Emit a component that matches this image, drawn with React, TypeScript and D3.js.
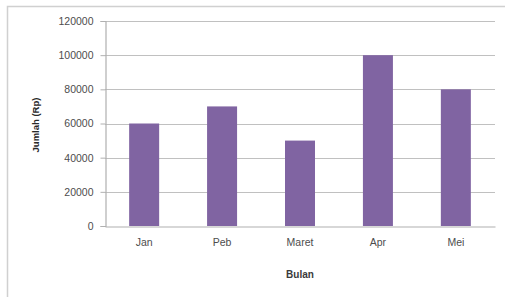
import React, { useEffect, useRef } from "react";
import * as d3 from "d3";

const months = ["Jan", "Peb", "Maret", "Apr", "Mei"];
const values = [60000, 70000, 50000, 100000, 80000];
const yTicks = [0, 20000, 40000, 60000, 80000, 100000, 120000];

const W = 505;
const H = 297;
const m = { left: 105, right: 10, top: 21, bottom: 71 };

const App = () => {
  const svgRef = useRef<SVGSVGElement>(null);

  useEffect(() => {
    const svg = d3.select(svgRef.current);
    svg.selectAll("*").remove();

    const x = d3
      .scaleBand()
      .domain(months)
      .range([m.left, W - m.right])
      .paddingInner(0.615)
      .paddingOuter(0.31);
    const y = d3.scaleLinear().domain([0, 120000]).range([H - m.bottom, m.top]);

    // outer frame (left + top only visible)
    svg
      .append("path")
      .attr("d", `M7.5,${H} L7.5,6.5 L${W},6.5`)
      .attr("fill", "none")
      .attr("stroke", "#d0d0d0")
      .attr("stroke-width", 1.5);

    // gridlines
    svg
      .append("g")
      .selectAll("line")
      .data(yTicks.filter((t) => t > 0))
      .join("line")
      .attr("x1", m.left)
      .attr("x2", W - m.right)
      .attr("y1", (d) => Math.round(y(d)) + 0.5)
      .attr("y2", (d) => Math.round(y(d)) + 0.5)
      .attr("stroke", "#c0c0c0")
      .attr("stroke-width", 1.2);

    // bars
    svg
      .append("g")
      .selectAll("rect")
      .data(values)
      .join("rect")
      .attr("x", (d, i) => x(months[i])!)
      .attr("width", x.bandwidth())
      .attr("y", (d) => y(d))
      .attr("height", (d) => y(0) - y(d))
      .attr("fill", "#8064a2");

    // y axis
    const yAxis = d3
      .axisLeft(y)
      .tickValues(yTicks)
      .tickSize(5)
      .tickPadding(7)
      .tickFormat(d3.format("d"));
    const ga = svg
      .append("g")
      .attr("transform", `translate(${m.left + 0.5},0)`)
      .call(yAxis);
    ga.select(".domain").attr("stroke", "#b0b0b0").attr("stroke-width", 1.2);
    ga.selectAll(".tick line").attr("stroke", "#b0b0b0");
    ga.selectAll(".tick text")
      .attr("fill", "#4d4d4d")
      .attr("font-size", 10.5)
      .attr("font-family", "Liberation Sans, Arial, sans-serif");

    // x axis
    const xAxis = d3.axisBottom(x).tickSize(0).tickPadding(12);
    const gx = svg
      .append("g")
      .attr("transform", `translate(0,${y(0) + 0.5})`)
      .call(xAxis);
    gx.select(".domain").attr("stroke", "#b0b0b0").attr("stroke-width", 1.2);
    gx.selectAll(".tick text")
      .attr("fill", "#4d4d4d")
      .attr("font-size", 10.5)
      .attr("font-family", "Liberation Sans, Arial, sans-serif");

    // titles
    svg
      .append("text")
      .attr("x", (m.left + W - m.right) / 2)
      .attr("y", 278)
      .attr("text-anchor", "middle")
      .attr("font-size", 10)
      .attr("font-weight", "bold")
      .attr("fill", "#3a3a3a")
      .attr("font-family", "Liberation Sans, Arial, sans-serif")
      .text("Bulan");

    svg
      .append("text")
      .attr("transform", "translate(39,125) rotate(-90)")
      .attr("text-anchor", "middle")
      .attr("font-size", 9.5)
      .attr("font-weight", "bold")
      .attr("fill", "#2a2a2a")
      .attr("font-family", "Liberation Sans, Arial, sans-serif")
      .text("Jumlah (Rp)");
  }, []);

  return (
    <svg
      ref={svgRef}
      width={W}
      height={H}
      style={{ position: "absolute", left: 0, top: 0, background: "#fff" }}
    />
  );
};

export default App;
